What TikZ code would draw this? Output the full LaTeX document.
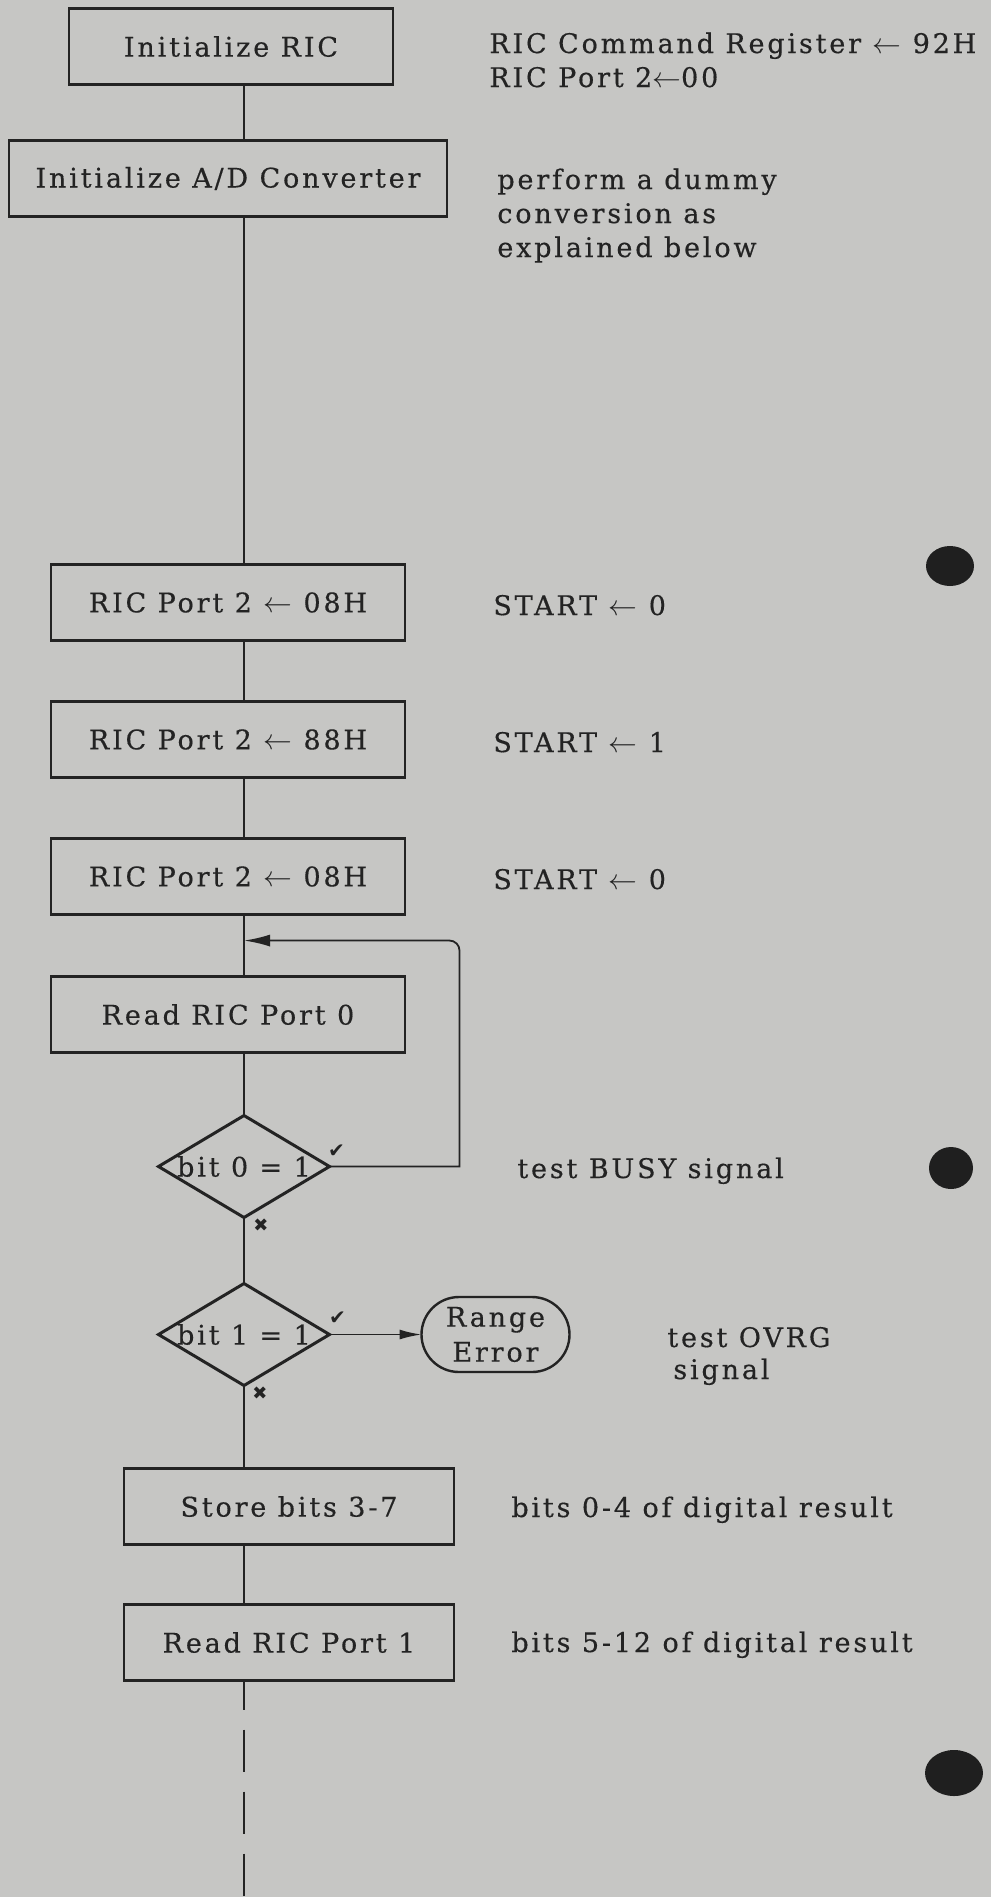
\documentclass[tikz,border=0pt]{standalone}
\usepackage{fontspec}
\newfontfamily\docfont{DejaVu Serif}[LetterSpace=10.5, FakeBold=0.4]
\newfontfamily\symfont{DejaVu Sans}
\usepackage{tikz}
\usetikzlibrary{arrows.meta,positioning,shapes.geometric,shapes.misc,calc}

\definecolor{paper}{RGB}{198,198,196}
\definecolor{ink}{RGB}{35,35,35}

\begin{document}
\begin{tikzpicture}[
    x=0.5pt, y=-0.5pt,
    every node/.style={text=ink, font=\docfont\fontsize{13.5}{17}\selectfont},
    stepbox/.style={rectangle, draw=ink, line width=1.2pt, minimum height=38pt, inner sep=0pt, outer sep=0pt},
    decision/.style={diamond, draw=ink, line width=1.5pt, minimum width=85.5pt, minimum height=51pt, inner sep=0pt, outer sep=0pt},
    terminal/.style={rounded rectangle, draw=ink, line width=1.2pt, minimum width=74pt, minimum height=37.5pt, inner sep=0pt, outer sep=0pt, align=center},
    note/.style={anchor=base west, inner sep=0pt, align=left},
    tick/.style={inner sep=0pt, font=\symfont\fontsize{10}{10}\selectfont},
    flow/.style={draw=ink, line width=0.9pt},
    arrow/.style={flow, -{Latex[length=11pt, width=5pt]}}
]

% Paper
\useasboundingbox (0,0) rectangle (991,1897);
\fill[paper] (0,0) rectangle (991,1897);

% Main flow
\node[stepbox, minimum width=162pt] (ric) at (231,46.5) {Initialize RIC};
\node[stepbox, minimum width=219pt, below=28pt of ric, xshift=-1.5pt] (adc) {Initialize A/D Converter};
\node[stepbox, minimum width=177pt, below=174pt of adc] (porta) {RIC Port 2 $\leftarrow$ 08H};
\node[stepbox, minimum width=177pt, below=30.5pt of porta] (portb) {RIC Port 2 $\leftarrow$ 88H};
\node[stepbox, minimum width=177pt, below=30.5pt of portb] (portc) {RIC Port 2 $\leftarrow$ 08H};
\node[stepbox, minimum width=177pt, below=31pt of portc] (readzero) {Read RIC Port 0};
\node[decision, below=31.5pt of readzero, xshift=8pt, label=center:{bit 0 = 1}] (bitzero) {};
\node[decision, below=33pt of bitzero, label=center:{bit 1 = 1}] (bitone) {};
\node[terminal, right=46pt of bitone, font=\docfont\fontsize{13.5}{17.5}\selectfont] (range) {Range\\Error};
\node[stepbox, minimum width=165pt, below=41.5pt of bitone, xshift=22.5pt] (store) {Store bits 3-7};
\node[stepbox, minimum width=165pt, below=30pt of store] (readone) {Read RIC Port 1};

% Yes / no marks
\node[tick] at ($(bitzero.east)+(7,-15)$) {✔};
\node[tick, font=\symfont\fontsize{9}{9}\selectfont] at ($(bitzero.south)+(17,8)$) {✖};
\node[tick] at ($(bitone.east)+(8,-16)$) {✔};
\node[tick, font=\symfont\fontsize{9}{9}\selectfont] at ($(bitone.south)+(16,8)$) {✖};

% Connectors
\coordinate (merge) at ($(portc.south -| bitzero)!0.42!(readzero.north -| bitzero)$);
\coordinate (loopturn) at ($(bitzero.east)+(130,0)$);
\coordinate (tail) at ($(bitone.center)+(0,562)$);
\draw[flow] (ric.south -| bitzero) -- (adc.north -| bitzero);
\draw[flow] (adc.south -| bitzero) -- (porta.north -| bitzero);
\draw[flow] (porta.south -| bitzero) -- (portb.north -| bitzero);
\draw[flow] (portb.south -| bitzero) -- (portc.north -| bitzero);
\draw[flow] (portc.south -| bitzero) -- (readzero.north -| bitzero);
\draw[flow] (readzero.south -| bitzero) -- (bitzero.north);
\draw[flow] (bitzero.south) -- (bitone.north);
\draw[flow] (bitone.south) -- (store.north -| bitone);
\draw[flow] (store.south -| bitone) -- (readone.north -| bitone);
\draw[flow, dash pattern=on 21pt off 10pt, dash phase=6.5pt] (readone.south -| bitone) -- (tail);
\draw[arrow, -{Latex[length=13pt, width=6pt]}] (bitzero.east) -- (loopturn) [rounded corners=5pt] -- (loopturn |- merge) -- (merge);
\draw[arrow] (bitone.east) -- (range);

% Notes
\node[note] (cmd) at (489,87) {RIC Command Register $\leftarrow$ 92H\\RIC Port 2$\leftarrow$00};
\node[note] (dummy) at (497,257) {perform a dummy\\conversion as\\explained below};
\node[note] (startlow) at (493,615) {START $\leftarrow$ 0};
\node[note] (starthigh) at (493,752) {START $\leftarrow$ 1};
\node[note] (startend) at (493,889) {START $\leftarrow$ 0};
\node[note] (busy) at (517,1178) {test BUSY signal};
\node[note, font=\docfont\fontsize{13.5}{16}\selectfont] (ovrg) at (667,1379) {test OVRG\\\hspace{3pt}signal};
\node[note] (lowbits) at (511,1517) {bits 0-4 of digital result};
\node[note] (highbits) at (511,1652) {bits 5-12 of digital result};

% Punch holes
\fill[black!88] (950,566) ellipse [x radius=24, y radius=20];
\fill[black!88] (951,1168) ellipse [x radius=22, y radius=21];
\fill[black!88] (954,1773) ellipse [x radius=29, y radius=23];

\end{tikzpicture}
\end{document}
